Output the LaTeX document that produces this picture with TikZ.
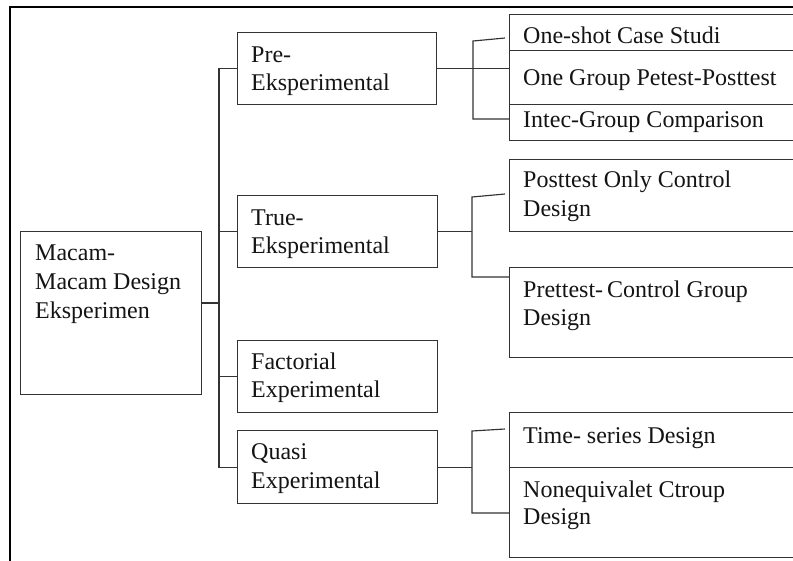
\documentclass[tikz,border=0pt]{standalone}
\usepackage{fontspec}
\setmainfont{Liberation Serif}
\begin{document}
\begin{tikzpicture}[x=1pt,y=-1pt,
  box/.style={draw=black!80,line width=1.15pt,inner sep=0pt,anchor=north west},
  txt/.style={anchor=base west,inner sep=0pt,font=\fontsize{24}{28}\selectfont,text=black!92},
  conn/.style={draw=black!80,line width=1.15pt}]
\clip (0,0) rectangle (793,560);
\useasboundingbox (0,0) rectangle (793,560);
% outer frame
\draw[line width=2.4pt,black] (10,7) rectangle (840,600);
% boxes
\node[box,minimum width=181,minimum height=163] (root) at (20,231) {};
\node[box,minimum width=199,minimum height=72] (pre) at (237,32) {};
\node[box,minimum width=200,minimum height=72] (true) at (237,195) {};
\node[box,minimum width=200,minimum height=72] (fact) at (237,340) {};
\node[box,minimum width=200,minimum height=73] (quasi) at (237,430) {};
\node[box,minimum width=330,minimum height=36] (oneshot) at (509,14) {};
\node[box,minimum width=330,minimum height=54] (onegroup) at (509,50) {};
\node[box,minimum width=330,minimum height=36] (intec) at (509,104) {};
\node[box,minimum width=330,minimum height=72] (posttest) at (509,159) {};
\node[box,minimum width=330,minimum height=90] (prettest) at (509,267) {};
\node[box,minimum width=330,minimum height=55] (timeser) at (509,412) {};
\node[box,minimum width=330,minimum height=90] (noneq) at (509,467) {};
% texts
\node[txt] (r1) at (35,260) {Macam-};
\node[txt] (r2) at (35,289) {Macam Design};
\node[txt] (r3) at (35,318) {Eksperimen};
\node[txt] (p1) at (251,62) {Pre-};
\node[txt] (p2) at (251,90) {Eksperimental};
\node[txt] (te1) at (251,225) {True-};
\node[txt] (te2) at (251,253) {Eksperimental};
\node[txt] (f1) at (251,369) {Factorial};
\node[txt] (f2) at (251,397) {Experimental};
\node[txt] (q1) at (251,459) {Quasi};
\node[txt] (q2) at (251,488) {Experimental};
\node[txt] (s1) at (523,43) {One-shot Case Studi};
\node[txt] (s2) at (523,85) {One Group Petest-Posttest};
\node[txt] (s3) at (523,127) {Intec-Group Comparison};
\node[txt] (s4) at (523,187) {Posttest Only Control};
\node[txt] (s5) at (523,216) {Design};
\node[txt] (s6) at (523,297) {Prettest-\,Control Group};
\node[txt] (s7) at (523,325) {Design};
\node[txt] (s8) at (523,443) {Time-\ series\ Design};
\node[txt] (s9) at (523,497) {Nonequivalet Ctroup};
\node[txt] (s10) at (523,524) {Design};
% trunk
\coordinate (tk) at (219,303);
\draw[conn] (pre.west) -- (pre.west -| tk) |- (quasi.west);
\draw[conn] (true.west) -- (true.west -| tk);
\draw[conn] (fact.west) -- (fact.west -| tk);
\draw[conn] (root.east |- tk) -- (tk);
% Pre group
\coordinate (b1t) at (473,41);
\coordinate (b1e) at (505,38);
\coordinate (b1b) at (473,119);
\draw[conn] (pre.east) -- (pre.east -| onegroup.west);
\draw[conn] (b1e) -- (b1t) -- (b1b) -- (b1b -| intec.west);
% True group
\coordinate (b2t) at (472,197);
\coordinate (b2e) at (505,194);
\coordinate (b2b) at (472,277);
\draw[conn] (true.east) -- (true.east -| b2t);
\draw[conn] (b2e) -- (b2t) -- (b2b) -- (b2b -| prettest.west);
% Quasi group
\coordinate (b3t) at (472,431);
\coordinate (b3e) at (505,429);
\coordinate (b3b) at (472,513);
\draw[conn] (quasi.east) -- (quasi.east -| b3t);
\draw[conn] (b3e) -- (b3t) -- (b3b) -- (b3b -| noneq.west);
\end{tikzpicture}
\end{document}
